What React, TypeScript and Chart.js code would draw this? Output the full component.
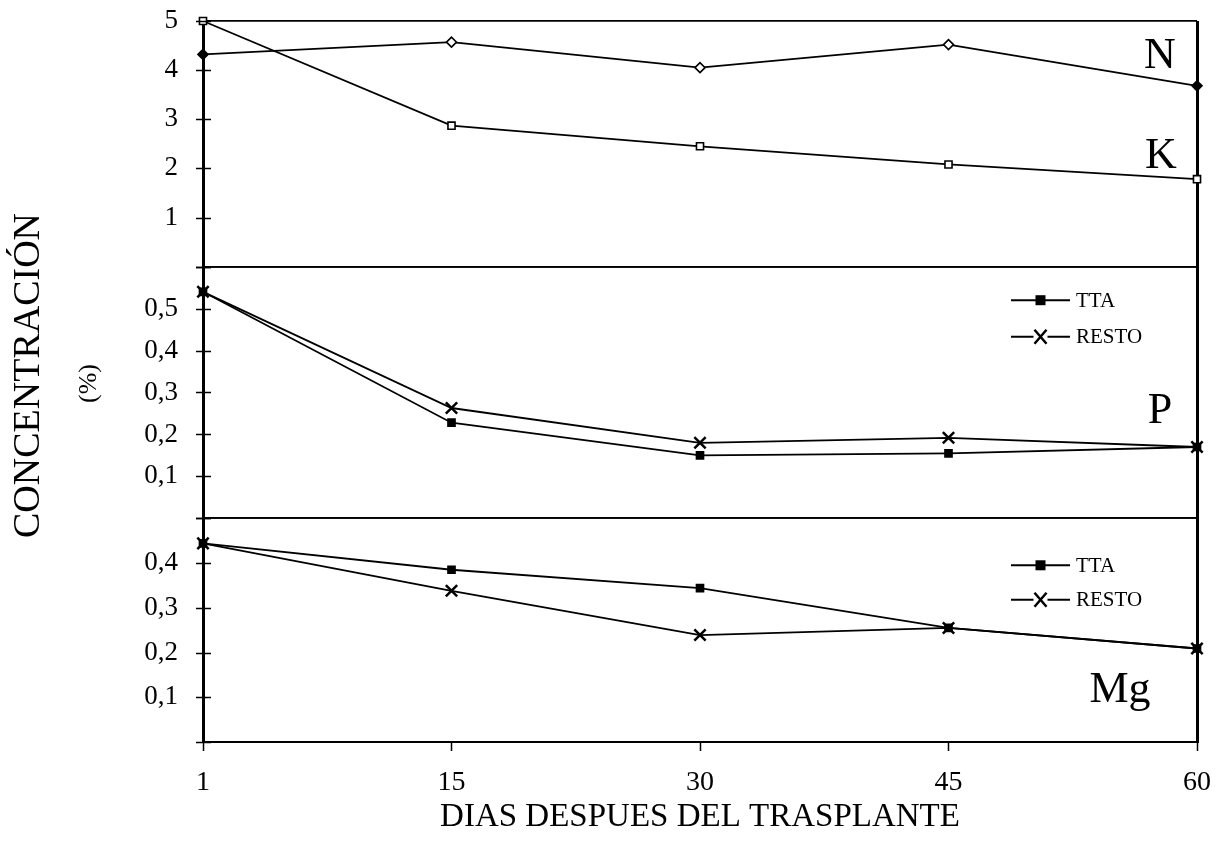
import React, { useEffect, useRef } from 'react';
import { Chart, registerables } from 'chart.js';

Chart.register(...registerables);

// ---- data ----
const days = ['1', '15', '30', '45', '60'];
const nValues = [4.32, 4.57, 4.05, 4.52, 3.68];
const kValues = [5.0, 2.87, 2.45, 2.08, 1.78];
const pTta = [0.54, 0.228, 0.15, 0.155, 0.17];
const pResto = [0.54, 0.263, 0.18, 0.192, 0.17];
const mgTta = [0.444, 0.385, 0.344, 0.255, 0.209];
const mgResto = [0.444, 0.338, 0.239, 0.255, 0.209];

const serif = '"Liberation Serif", "DejaVu Serif", serif';

const panelLabels = [
  { text: 'N', axis: 'yTop', value: 4.04, dx: -37 },
  { text: 'K', axis: 'yTop', value: 2.0, dx: -36 },
  { text: 'P', axis: 'yP', value: 0.227, dx: -37 },
  { text: 'Mg', axis: 'yMg', value: 0.089, dx: -77 },
];

const legends = [
  { axis: 'yP', items: [{ label: 'TTA', style: 'square', value: 0.52 }, { label: 'RESTO', style: 'x', value: 0.433 }] },
  { axis: 'yMg', items: [{ label: 'TTA', style: 'square', value: 0.395 }, { label: 'RESTO', style: 'x', value: 0.318 }] },
];

const yAxisIds = ['yTop', 'yP', 'yMg'];

const fmt = (v: number) => v.toFixed(1).replace('.', ',');

const annotations = {
  id: 'panelAnnotations',
  afterDraw(chart: any) {
    const { ctx, chartArea } = chart;
    ctx.save();
    ctx.fillStyle = '#000';
    ctx.strokeStyle = '#000';
    // y tick marks crossing the axis
    ctx.lineWidth = 1.6;
    for (const id of yAxisIds) {
      const s = chart.scales[id];
      ctx.beginPath();
      for (const t of s.ticks) {
        const y = Math.round(s.getPixelForValue(t.value)) + 0.5;
        ctx.moveTo(chartArea.left - 7, y);
        ctx.lineTo(chartArea.left + 8, y);
      }
      ctx.stroke();
    }
    // panel labels
    ctx.font = `44px ${serif}`;
    ctx.textAlign = 'center';
    ctx.textBaseline = 'alphabetic';
    for (const p of panelLabels) {
      const s = chart.scales[p.axis];
      ctx.fillText(p.text, chartArea.right + p.dx, s.getPixelForValue(p.value));
    }
    // legends
    ctx.font = `21px ${serif}`;
    ctx.textAlign = 'left';
    ctx.textBaseline = 'middle';
    for (const lg of legends) {
      const s = chart.scales[lg.axis];
      for (const it of lg.items) {
        const y = s.getPixelForValue(it.value);
        const x0 = chartArea.right - 186;
        const x1 = chartArea.right - 127;
        const xm = (x0 + x1) / 2;
        ctx.lineWidth = 2;
        ctx.beginPath();
        ctx.moveTo(x0, y);
        ctx.lineTo(x1, y);
        ctx.stroke();
        if (it.style === 'square') {
          ctx.fillRect(xm - 5, y - 5, 10, 10);
        } else {
          ctx.fillStyle = '#fff';
          ctx.fillRect(xm - 7, y - 7, 14, 14);
          ctx.fillStyle = '#000';
          ctx.lineWidth = 2.5;
          ctx.beginPath();
          ctx.moveTo(xm - 6, y - 7);
          ctx.lineTo(xm + 6, y + 7);
          ctx.moveTo(xm + 6, y - 7);
          ctx.lineTo(xm - 6, y + 7);
          ctx.stroke();
        }
        ctx.fillText(it.label, x1 + 6, y + 1);
      }
    }
    // y title
    const cy = (chartArea.top + chartArea.bottom) / 2;
    ctx.textAlign = 'center';
    ctx.textBaseline = 'middle';
    ctx.save();
    ctx.translate(29, cy - 6);
    ctx.rotate(-Math.PI / 2);
    ctx.font = `38px ${serif}`;
    ctx.fillText('CONCENTRACIÓN', 0, 0);
    ctx.restore();
    ctx.save();
    ctx.translate(89, cy + 2);
    ctx.rotate(-Math.PI / 2);
    ctx.font = `26px ${serif}`;
    ctx.fillText('(%)', 0, 0);
    ctx.restore();
    ctx.restore();
  },
};

const yAxis = (min: number, max: number, step: number, weight: number) => ({
  type: 'linear',
  position: 'left',
  stack: 'panels',
  stackWeight: weight,
  min,
  max,
  afterFit: (s: any) => {
    s.width = 203;
  },
  border: { display: true, color: '#000', width: 3 },
  grid: {
    drawOnChartArea: true,
    color: (c: any) =>
      c.tick && (Math.abs(c.tick.value - min) < 1e-9 || Math.abs(c.tick.value - max) < 1e-9) ? '#000' : 'rgba(0,0,0,0)',
    lineWidth: 1.8,
    tickColor: 'rgba(0,0,0,0)',
    tickLength: 22,
  },
  ticks: {
    stepSize: step,
    autoSkip: false,
    padding: 3,
    color: '#000',
    font: { family: serif, size: 27 },
    callback: (v: number) => {
      if (Math.abs(v - min) < 1e-9) return '';
      if (Math.abs(v - max) < 1e-9 && max < 1) return '';
      return max < 1 ? fmt(v) : String(Math.round(v));
    },
  },
});

export default function App() {
  const ref = useRef<HTMLCanvasElement | null>(null);
  useEffect(() => {
    if (!ref.current) return;
    const line = (data: number[], axis: string, extra: any) => ({
      data,
      yAxisID: axis,
      borderColor: '#000',
      borderWidth: 1.8,
      pointBorderColor: '#000',
      pointBorderWidth: 1.6,
      tension: 0,
      clip: false,
      ...extra,
    });
    const chart = new Chart(ref.current, {
      type: 'line',
      data: {
        labels: days,
        datasets: [
          line(nValues, 'yTop', {
            label: 'N',
            pointStyle: 'rectRot',
            pointRadius: 5,
            pointBackgroundColor: ['#000', '#fff', '#fff', '#fff', '#000'],
          }),
          line(kValues, 'yTop', { label: 'K', pointStyle: 'rect', pointRadius: 5, pointBackgroundColor: '#fff' }),
          line(pTta, 'yP', { label: 'P TTA', pointStyle: 'rect', pointRadius: 5, pointBackgroundColor: '#000' }),
          line(pResto, 'yP', { label: 'P RESTO', pointStyle: 'crossRot', pointRadius: 8, pointBorderWidth: 2.5 }),
          line(mgTta, 'yMg', { label: 'Mg TTA', pointStyle: 'rect', pointRadius: 5, pointBackgroundColor: '#000' }),
          line(mgResto, 'yMg', { label: 'Mg RESTO', pointStyle: 'crossRot', pointRadius: 8, pointBorderWidth: 2.5 }),
        ],
      },
      options: {
        animation: false,
        responsive: false,
        layout: { padding: { top: 21, right: 23, left: 0, bottom: 0 } },
        plugins: { legend: { display: false }, tooltip: { enabled: false }, title: { display: false } },
        scales: {
          x: {
            type: 'category',
            offset: false,
            afterFit: (s: any) => {
              s.height = 105;
            },
            border: { display: true, color: '#000', width: 2 },
            grid: {
              drawOnChartArea: true,
              color: (c: any) => (c.index === days.length - 1 ? '#000' : 'rgba(0,0,0,0)'),
              lineWidth: 3,
              tickColor: '#000',
              tickLength: 9,
              tickWidth: 1.5,
            },
            ticks: {
              padding: 3,
              color: '#000',
              font: { family: serif, size: 28, lineHeight: 2.06 },
              maxRotation: 0,
            },
            title: {
              display: true,
              text: 'DIAS DESPUES DEL TRASPLANTE',
              color: '#000',
              font: { family: serif, size: 33 },
              padding: { top: 0, bottom: 10 },
            },
          },
          yMg: yAxis(0, 0.5, 0.1, 224),
          yP: yAxis(0, 0.6, 0.1, 252),
          yTop: yAxis(0, 5, 1, 246),
        },
      } as any,
      plugins: [annotations],
    });
    return () => chart.destroy();
  }, []);
  return (
    <div style={{ position: 'absolute', left: 0, top: 0, width: 1220, height: 847, background: '#fff' }}>
      <canvas ref={ref} width={1220} height={847} />
    </div>
  );
}
